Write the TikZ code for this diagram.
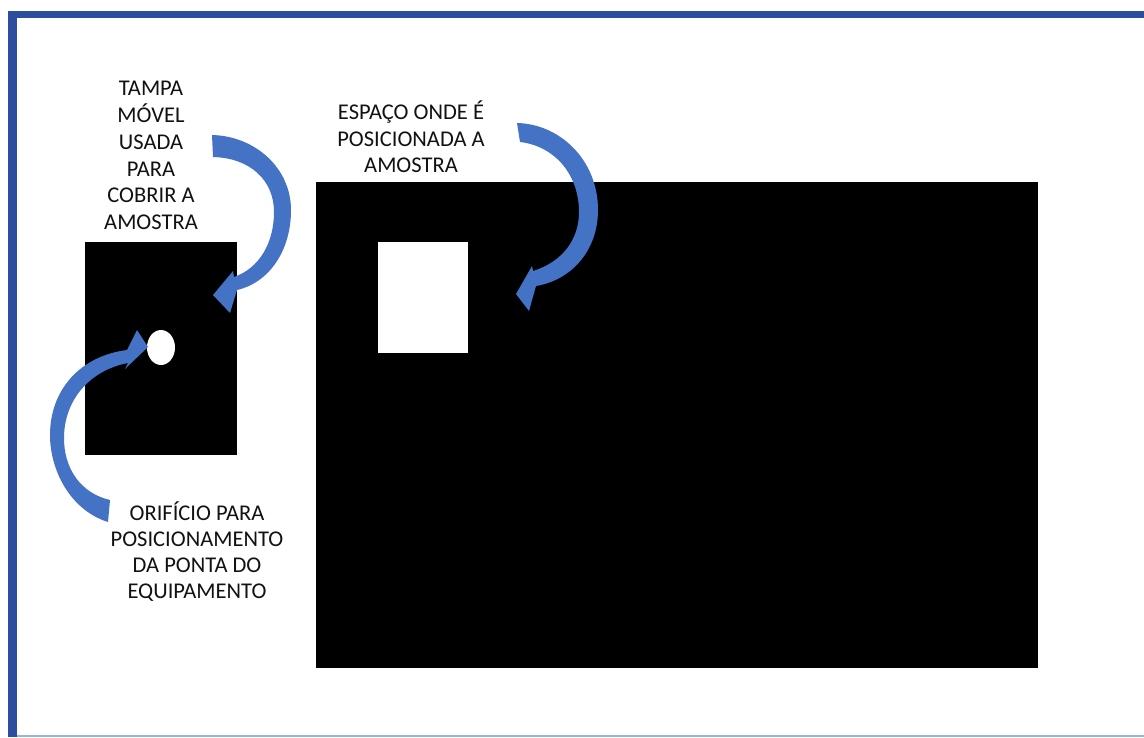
\documentclass[tikz,border=0pt]{standalone}
\usepackage{fontspec}
\setmainfont{Carlito}
\usetikzlibrary{shapes.geometric}
\definecolor{arrowblue}{RGB}{68,114,196}
\definecolor{frameblue}{RGB}{44,78,160}
\definecolor{framelight}{RGB}{150,185,215}
\definecolor{textgray}{RGB}{18,18,18}
\begin{document}
\begin{tikzpicture}[x=1pt,y=-1pt,
  caption/.style={align=center, text=textgray, font=\fontsize{22.5}{26.2}\selectfont, inner sep=0pt},
  blackbox/.style={fill=black, draw=black, inner sep=0pt},
  curvarrow/.style={fill=arrowblue, draw=none}]
\useasboundingbox (0,0) rectangle (1144,737);
\fill[white] (0,0) rectangle (1144,737);
% frame
\fill[frameblue] (8,11) rectangle (1144,18);
\fill[frameblue] (8,11) rectangle (17,737);
\fill[framelight] (17,734.5) rectangle (1144,737);

% boxes
\node[blackbox, minimum width=151pt, minimum height=212pt] (lid) at (161,348.5) {};
\node[blackbox, minimum width=721pt, minimum height=485pt] (base) at (676.5,424.5) {};
\node[fill=white, inner sep=0pt, minimum width=90pt, minimum height=111pt] (slot) at (423,297.5) {};
\node[ellipse, fill=white, inner sep=0pt, minimum width=28pt, minimum height=35pt] (hole) at (161,347.5) {};

% curved arrow 1 (lid)
\fill[curvarrow] (212,135) .. controls (255,136) and (291,168) .. (291,210)
  .. controls (291,252) and (268,283) .. (237,290)
  -- (230,313) -- (213,295) -- (233,271) -- (234,277)
  .. controls (260,268) and (274,242) .. (274,212)
  .. controls (274,180) and (250,158) .. (213,157) -- cycle;

% curved arrow 2 (slot)
\fill[curvarrow] (517,123) .. controls (560,124) and (598,160) .. (598,210)
  .. controls (598,250) and (572,280) .. (536,286)
  -- (529,311) -- (516,294) -- (532,266) -- (533,271)
  .. controls (562,262) and (579,240) .. (579,212)
  .. controls (579,175) and (555,146) .. (520,142) -- cycle;

% curved arrow 3 (hole)
\fill[curvarrow] (108,522) .. controls (70,510) and (50,470) .. (50,435)
  .. controls (50,390) and (80,356) .. (127,350)
  -- (137,330) -- (148,347) -- (125,369) -- (128,363)
  .. controls (90,370) and (64,400) .. (64,438)
  .. controls (64,468) and (80,493) .. (110,500) -- cycle;

% texts
\node[caption, font=\fontsize{22.5}{26.8}\selectfont] (tampa) at (151,155.5) {TAMPA\\MÓVEL\\USADA\\PARA\\COBRIR A\\AMOSTRA};
\node[caption] (espaco) at (411,136.8) {ESPAÇO ONDE É\\POSICIONADA A\\AMOSTRA};
\node[caption] (orificio) at (197,551.5) {ORIFÍCIO PARA\\POSICIONAMENTO\\DA PONTA DO\\EQUIPAMENTO};
\end{tikzpicture}
\end{document}
